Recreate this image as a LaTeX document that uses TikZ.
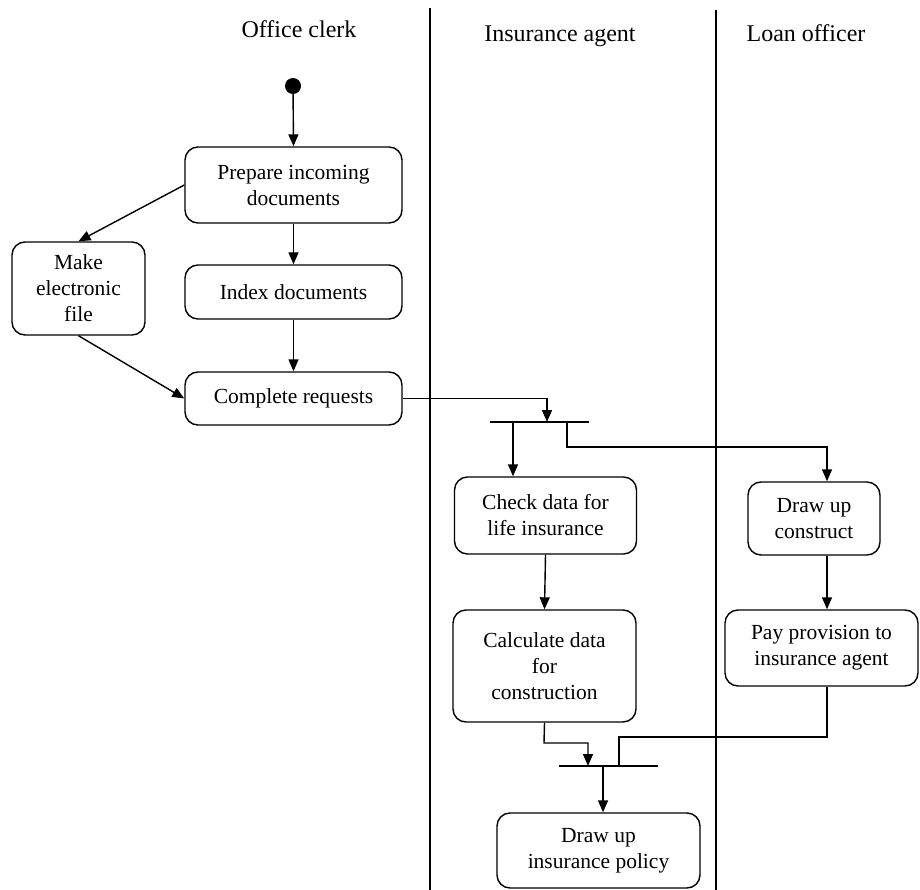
\documentclass[tikz,border=0pt]{standalone}
\usepackage{fontspec}
\setmainfont{Liberation Serif}
\usetikzlibrary{arrows.meta}
\begin{document}
\begin{tikzpicture}[x=1pt,y=-1pt,
  flow/.style={line width=1.4pt,-{Triangle[length=12pt,width=10pt]}},
  plain/.style={line width=1.4pt},
  lane/.style={line width=1.4pt},
  activity/.style={draw,line width=1.4pt,rounded corners=13pt,align=center,
    inner sep=0pt,font=\fontsize{21.5}{26}\selectfont},
  lanehead/.style={font=\fontsize{24}{28}\selectfont,anchor=base},
  bar/.style={line width=1.8pt}]
\useasboundingbox (0,0) rectangle (920,890);

% swimlane separators
\draw[lane] (430,8) -- (430,890);
\draw[lane] (716,10) -- (716,890);

% lane headings
\node[lanehead] (hclerk) at (299,38) {Office clerk};
\node[lanehead] (hagent) at (560,42) {Insurance agent};
\node[lanehead] (hloan) at (806,42) {Loan officer};

% initial state
\node[circle,fill=black,inner sep=0pt,minimum size=16pt] (start) at (293,86) {};

% activities
\node[activity,minimum width=217pt,minimum height=76pt] (prep) at (293.5,185) {Prepare incoming\\documents};
\node[activity,minimum width=133pt,minimum height=93pt] (efile) at (78.5,288.5) {Make\\electronic\\file};
\node[activity,minimum width=217pt,minimum height=54pt] (index) at (293.5,292) {Index documents};
\node[activity,minimum width=217pt,minimum height=53pt] (complete) at (293.5,398.5) {Complete requests};
\node[activity,minimum width=182pt,minimum height=77pt] (check) at (545.5,515.5) {Check data for\\life insurance};
\node[activity,minimum width=132pt,minimum height=73pt] (construct) at (814,518.5) {Draw up\\construct};
\node[activity,minimum width=183pt,minimum height=112pt] (calc) at (544.5,666) {Calculate data\\for\\construction};
\node[activity,minimum width=193pt,minimum height=76pt] (pay) at (821.5,648) {Pay provision to\\insurance agent};
\node[activity,minimum width=203pt,minimum height=75pt] (policy) at (598.5,850.5) {Draw up\\insurance policy};

% fork and join bars
\coordinate (forkL) at (490,422);
\coordinate (forkR) at (589,422);
\coordinate (joinL) at (559,766);
\coordinate (joinR) at (658,766);
\draw[bar] (forkL) -- (forkR);
\draw[bar] (joinL) -- (joinR);

% routing points
\coordinate (forkIn) at (547,422);
\coordinate (forkOutA) at (513,422);
\coordinate (forkOutB) at (567,422);
\coordinate (bendB) at (567,447);
\coordinate (loanX) at (827,447);
\coordinate (calcBend) at (544,743);
\coordinate (joinInA) at (588,766);
\coordinate (payBend) at (827,737);
\coordinate (joinInB) at (619,766);
\coordinate (joinOut) at (603,766);

% office clerk flow
\draw[flow] (start) -- (prep.north);
\draw[flow] (prep.west) -- (efile.north);
\draw[flow] (prep.south) -- (index.north);
\draw[flow] (index.south) -- (complete.north);
\draw[flow] (efile.south) -- (complete.west);

% into the fork
\draw[flow] (complete.east) -| (forkIn);

% out of the fork
\draw[flow] (forkOutA) -- (forkOutA |- check.north);
\draw[flow] (forkOutB) -- (bendB) -- (loanX) -- (loanX |- construct.north);

% insurance agent flow
\draw[flow] (check.south) -- (calc.north);
\draw[flow] (calc.south) -- (calcBend) -| (joinInA);

% loan officer flow
\draw[flow] (loanX |- construct.south) -- (loanX |- pay.north);
\draw[plain] (payBend |- pay.south) -- (payBend) -| (joinInB);

% out of the join
\draw[flow] (joinOut) -- (joinOut |- policy.north);
\end{tikzpicture}
\end{document}
